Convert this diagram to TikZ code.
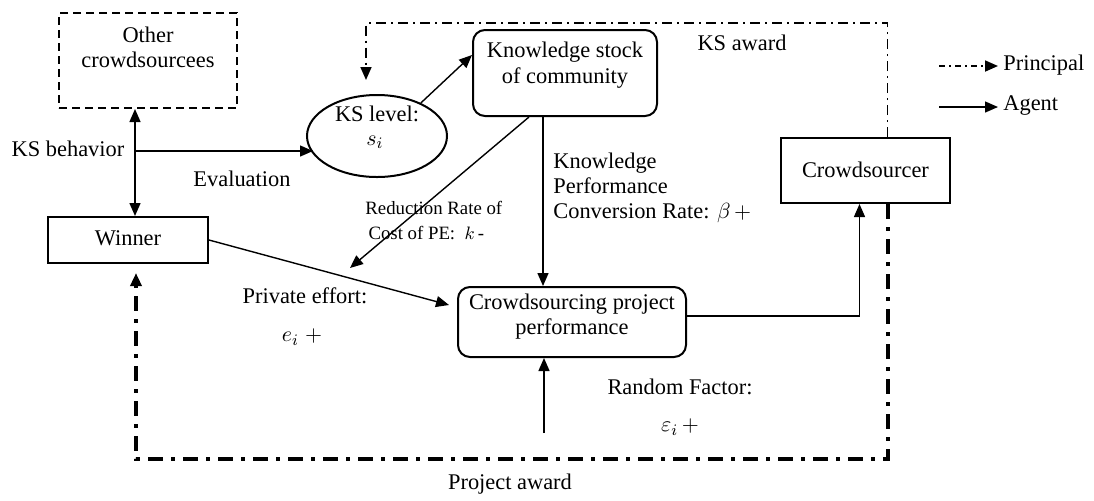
\documentclass[tikz,border=0pt]{standalone}
\usepackage{fontspec}
\setmainfont{Liberation Serif}
\newfontfamily\tnr{Liberation Serif}
\usetikzlibrary{arrows.meta,shapes.geometric}
\tikzset{
  lbl/.style={font=\tnr\fontsize{11.2}{12.6}\selectfont, inner sep=0pt},
  small/.style={font=\tnr\fontsize{9.4}{12.5}\selectfont, inner sep=0pt},
  frame/.style={draw, line width=1pt, inner sep=0pt},
  rbox/.style={frame, rounded corners=6pt},
  arr/.style={line width=0.7pt, -{Triangle[length=6.5pt,width=5.5pt]}},
  darr/.style={line width=0.7pt, {Triangle[length=6.5pt,width=5.5pt]}-{Triangle[length=6.5pt,width=5.5pt]}},
  prin/.style={line width=0.8pt, dash pattern=on 5pt off 2.5pt on 1pt off 2.5pt, -{Triangle[length=6.5pt,width=5.5pt]}},
  prinbold/.style={line width=2pt, dash pattern=on 7.5pt off 4pt on 2pt off 4pt, -{Triangle[length=6.5pt,width=5.5pt]}},
  legprin/.style={line width=0.9pt, dash pattern=on 3pt off 2pt on 1pt off 2pt, -{Triangle[length=6.5pt,width=5.5pt]}}
}
\begin{document}
\begin{tikzpicture}[x=0.5pt,y=-0.5pt]
\useasboundingbox (0,0) rectangle (1094,500);

% nodes
\node[frame, line width=1pt, dash pattern=on 4pt off 2.5pt, minimum width=89pt, minimum height=47.5pt] (oth) at (148,60.5) {};
\node[lbl, align=center] (othtxt) at (148,47) {Other\\crowdsourcees};

\node[frame, minimum width=80pt, minimum height=23pt] (win) at (128,240) {};
\node[lbl] (wintxt) at (128,238) {Winner};

\node[frame, ellipse, minimum width=70pt, minimum height=41pt] (lvl) at (377,136) {};
\node[lbl] (lvltxt) at (377,114) {KS level:};
\node[lbl] (lvls) at (375,142) {$s_i$};

\node[rbox, minimum width=92pt, minimum height=43pt] (ks) at (565,73) {};
\node[lbl, align=center] (kstxt) at (565,65) {Knowledge stock\\[0.6pt]of community};

\node[rbox, minimum width=114pt, minimum height=35pt] (cp) at (572,322) {};
\node[lbl, align=center] (cptxt) at (572,317) {Crowdsourcing project\\performance};

\node[frame, minimum width=84.5pt, minimum height=32.5pt] (cr) at (865.5,170.5) {};
\node[lbl] (crtxt) at (865.5,170) {Crowdsourcer};

% labels
\node[lbl] (ksb) at (68,149) {KS behavior};
\node[lbl] (eval) at (242,179) {Evaluation};
\node[small, align=left, anchor=west] (red) at (365,221) {Reduction Rate of\\ \,Cost of PE:\ \ $k$\,-};
\node[lbl, align=left, anchor=west] (kpc) at (553,188) {Knowledge\\Performance\\Conversion Rate: $\beta\,{+}$};
\node[lbl] (pe) at (305,296) {Private effort:};
\node[lbl] (ei) at (302,337) {$e_i\;+$};
\node[lbl] (rf) at (680,387) {Random Factor:};
\node[lbl] (epsi) at (680,427) {$\varepsilon_i\,{+}$};
\node[lbl] (pa) at (510,484) {Project award};
\node[lbl] (ksa) at (742,43) {KS award};

% coordinates
\coordinate (kb) at (135,151);
\coordinate (evtip) at (313,151);
\coordinate (petip) at (350,268);
\coordinate (cptip) at (449,305);
\coordinate (rfs) at (544,433);
\coordinate (ktop) at (366,23);
\coordinate (ktip) at (366,80);
\coordinate (pbl) at (136,459);
\coordinate (wtip) at (136,273);

% agent connectors
\draw[darr] (kb |- oth.south) -- (kb |- win.north);
\draw[arr] (kb) -- (evtip);
\draw[arr] (lvl.37) -- ([yshift=9pt]ks.west);
\draw[arr] ([xshift=28.5pt]ks.south west) -- (petip);
\draw[arr] ([xshift=35.5pt]ks.south west) -- ([xshift=35.5pt]ks.south west |- cp.north);
\draw[arr] (win.east) -- (cptip);
\draw[arr] (rfs) -- (rfs |- cp.south);
\draw[arr] ([yshift=3pt]cp.east) -| ([xshift=-3pt]cr.south);

% principal connectors
\draw[prin] ([xshift=11pt]cr.north) |- (ktop) -- (ktip);
\draw[prinbold] ([xshift=11pt]cr.south) |- (pbl) -- (wtip);

% legend
\coordinate (l1a) at (939,66);
\coordinate (l1b) at (998,66);
\coordinate (l2a) at (939,107);
\coordinate (l2b) at (998,107);
\draw[legprin] (l1a) -- (l1b);
\draw[arr] (l2a) -- (l2b);
\node[lbl, anchor=west] (lp) at (1003,65) {Principal};
\node[lbl, anchor=west] (la) at (1003,106) {Agent};
\end{tikzpicture}
\end{document}
